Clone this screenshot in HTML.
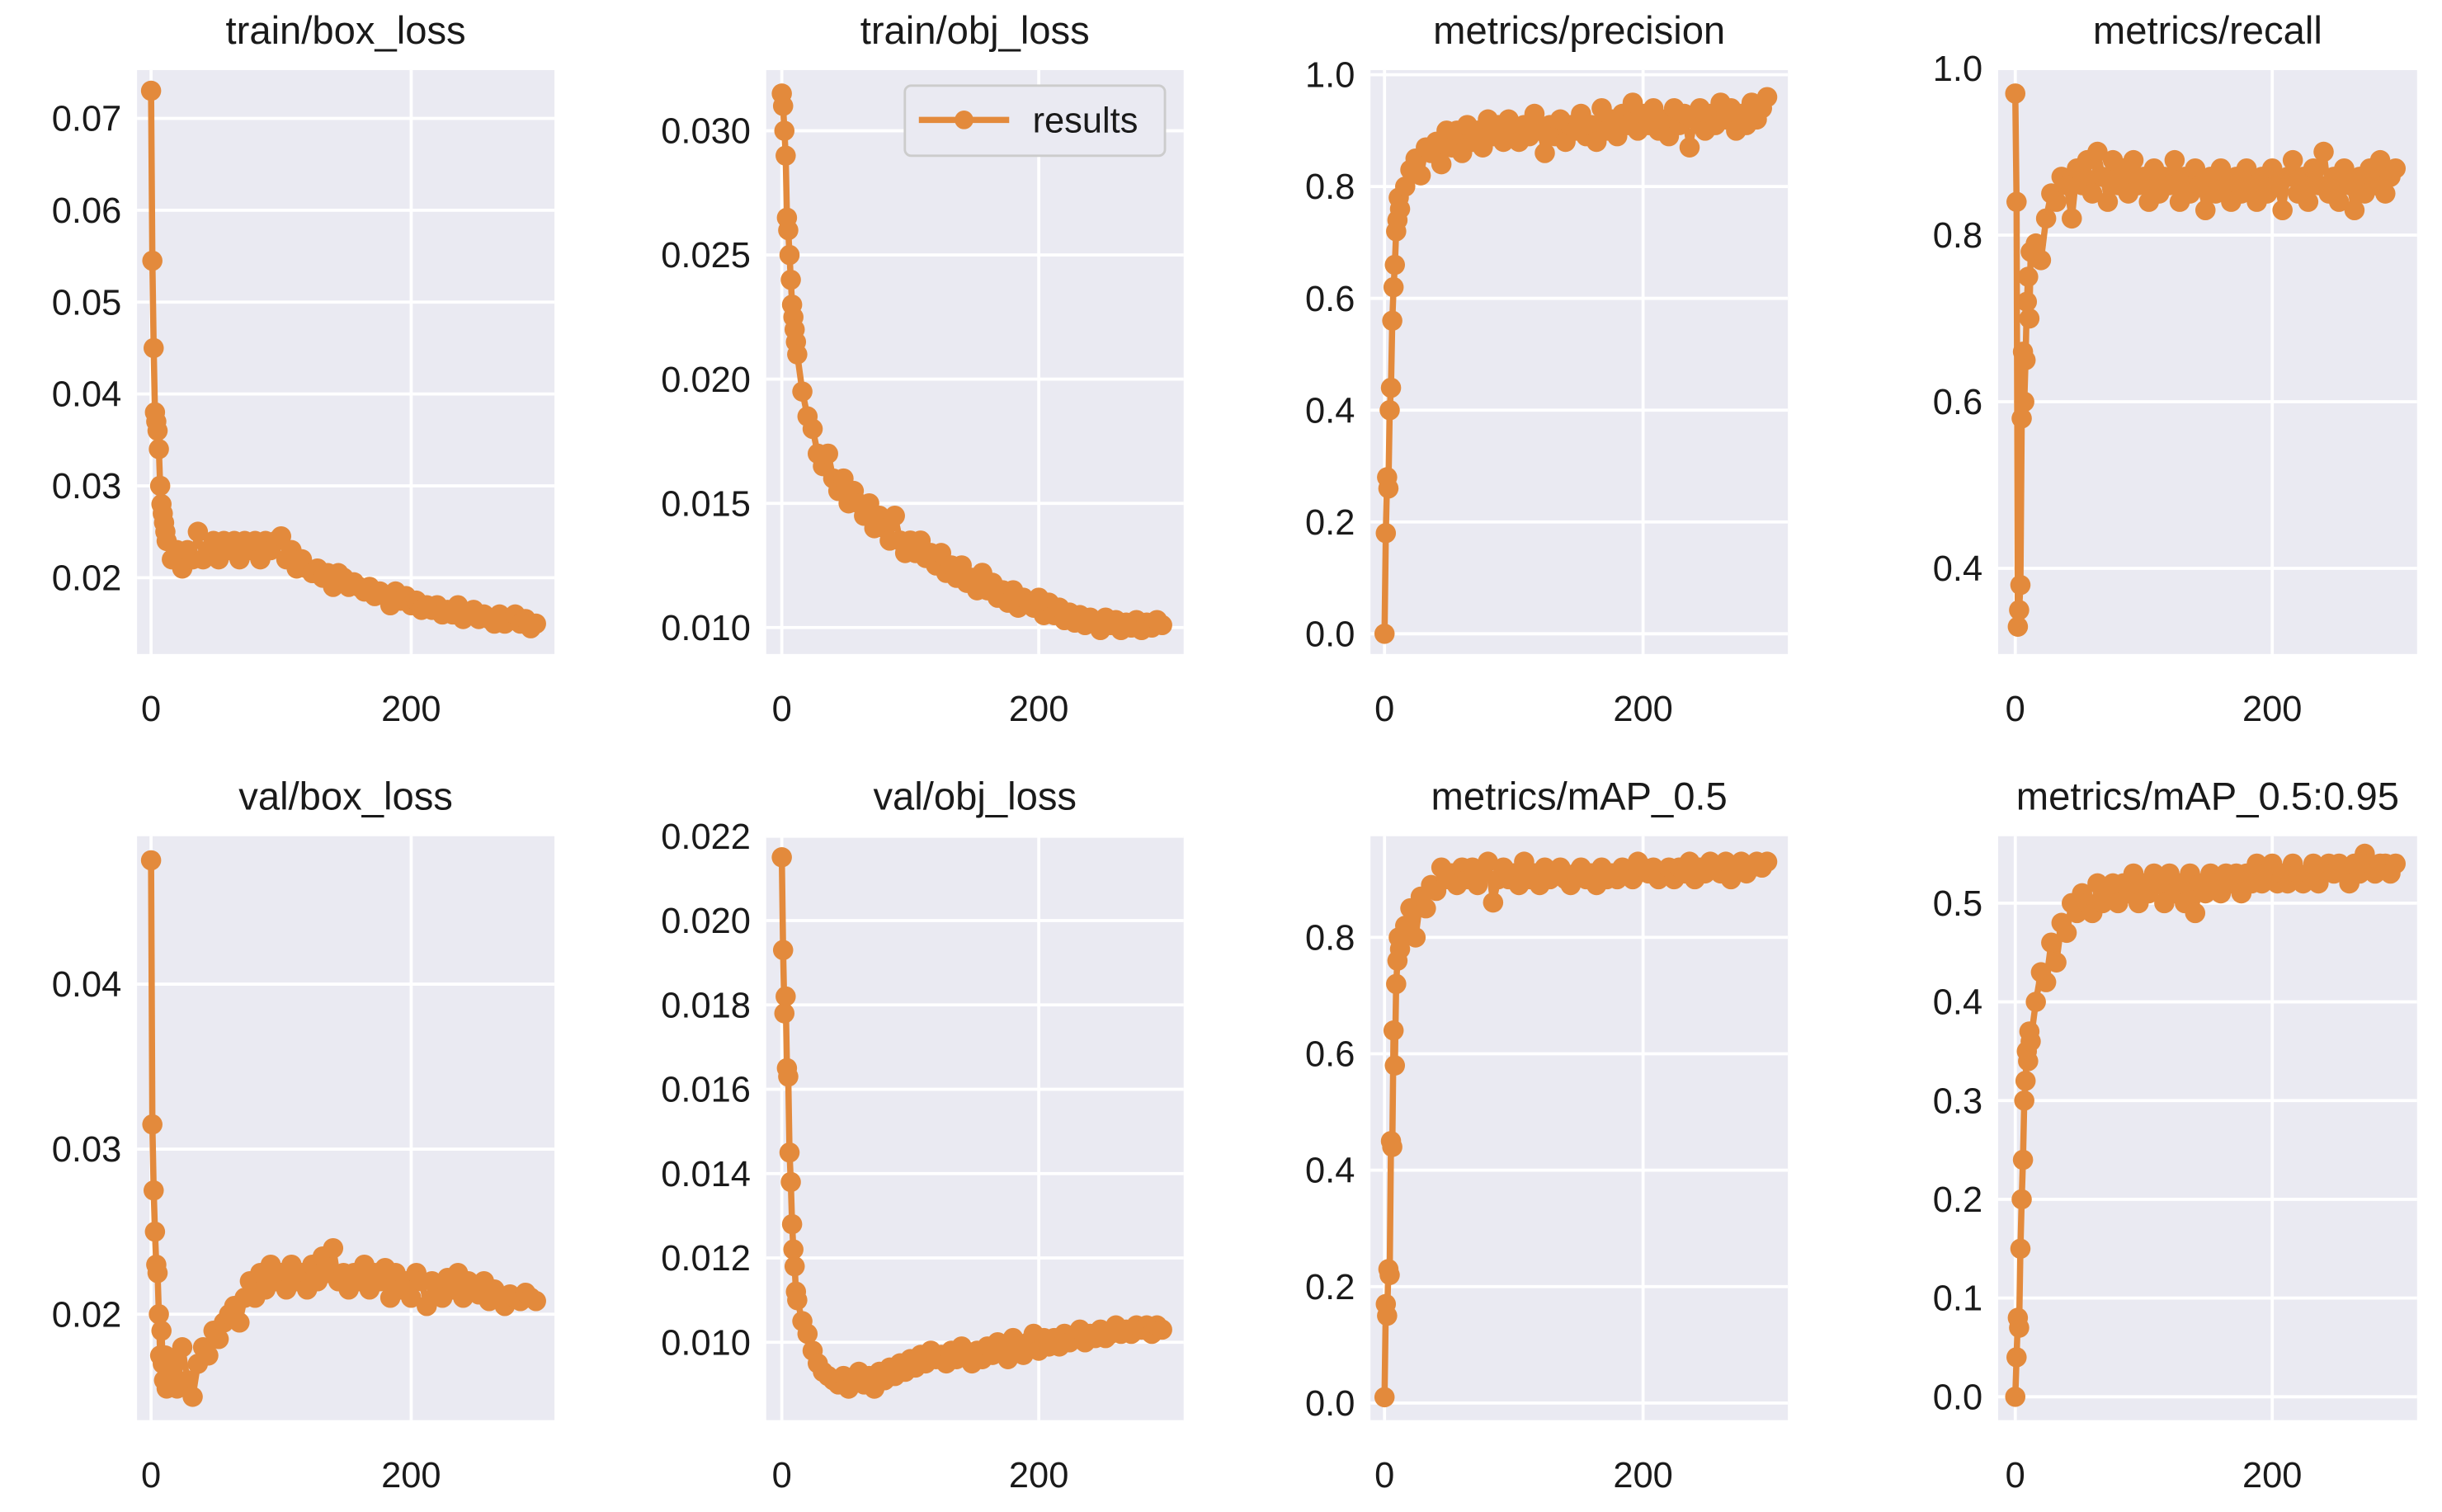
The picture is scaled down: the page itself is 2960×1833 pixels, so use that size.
<!DOCTYPE html>
<html><head><meta charset="utf-8"><style>
html,body{margin:0;padding:0;background:#fff;}
svg{display:block;}
text{font-family:"Liberation Sans",sans-serif;fill:#1a1a1a;}
</style></head><body>
<svg id="fig" width="2960" height="1833" viewBox="0 0 1568 971" preserveAspectRatio="none" xmlns="http://www.w3.org/2000/svg"></svg>
<script>
const epochs=[0,1,2,3,4,5,6,7,8,9,10,11,12,16,20,24,28,32,36,40,44,48,52,56,60,64,68,72,76,80,84,88,92,96,100,104,108,112,116,120,124,128,132,136,140,144,148,152,156,160,164,168,172,176,180,184,188,192,196,200,204,208,212,216,220,224,228,232,236,240,244,248,252,256,260,264,268,272,276,280,284,288,292,296];
const trainBox=[0.073,0.0545,0.045,0.038,0.037,0.036,0.034,0.030,0.028,0.027,0.026,0.025,0.024,0.022,0.023,0.021,0.023,0.022,0.025,0.022,0.023,0.024,0.022,0.024,0.023,0.024,0.022,0.024,0.023,0.024,0.022,0.024,0.023,0.024,0.0245,0.022,0.023,0.021,0.022,0.021,0.0205,0.021,0.020,0.0205,0.019,0.0205,0.020,0.019,0.0195,0.019,0.0185,0.019,0.018,0.0185,0.018,0.017,0.0185,0.0175,0.018,0.017,0.0175,0.0165,0.017,0.0165,0.017,0.016,0.0165,0.016,0.017,0.0155,0.016,0.0165,0.0155,0.016,0.0155,0.015,0.016,0.015,0.0155,0.016,0.015,0.0155,0.0145,0.015];
const trainObj=[0.0315,0.031,0.030,0.029,0.0265,0.026,0.025,0.024,0.023,0.0225,0.022,0.0215,0.021,0.0195,0.0185,0.018,0.017,0.0165,0.017,0.016,0.0155,0.016,0.015,0.0155,0.015,0.0145,0.015,0.014,0.0145,0.014,0.0135,0.0145,0.0135,0.013,0.0135,0.013,0.0135,0.0128,0.013,0.0125,0.013,0.0122,0.0125,0.012,0.0125,0.0118,0.012,0.0115,0.0122,0.0115,0.0118,0.0112,0.0115,0.011,0.0115,0.0108,0.0112,0.011,0.0108,0.0112,0.0105,0.011,0.0105,0.0108,0.0103,0.0106,0.0102,0.0105,0.0101,0.0104,0.0102,0.0099,0.0104,0.0101,0.0103,0.0099,0.0102,0.01,0.0103,0.0099,0.0102,0.01,0.0103,0.0101];
const precision=[0.0,0.18,0.28,0.26,0.4,0.44,0.56,0.62,0.66,0.72,0.74,0.78,0.76,0.8,0.83,0.85,0.82,0.87,0.86,0.88,0.84,0.9,0.87,0.9,0.86,0.91,0.88,0.9,0.87,0.92,0.89,0.91,0.88,0.92,0.9,0.88,0.91,0.89,0.93,0.9,0.86,0.91,0.89,0.92,0.88,0.91,0.9,0.93,0.89,0.91,0.88,0.94,0.9,0.92,0.89,0.93,0.91,0.95,0.9,0.93,0.91,0.94,0.9,0.92,0.89,0.94,0.91,0.93,0.87,0.92,0.94,0.9,0.93,0.91,0.95,0.92,0.94,0.9,0.93,0.91,0.95,0.92,0.94,0.96];
const recall=[0.97,0.84,0.33,0.35,0.38,0.58,0.66,0.6,0.65,0.72,0.75,0.7,0.78,0.79,0.77,0.82,0.85,0.84,0.87,0.86,0.82,0.88,0.86,0.89,0.85,0.9,0.87,0.84,0.89,0.86,0.88,0.85,0.89,0.86,0.87,0.84,0.88,0.85,0.87,0.86,0.89,0.84,0.87,0.85,0.88,0.86,0.83,0.87,0.85,0.88,0.86,0.84,0.87,0.85,0.88,0.86,0.84,0.87,0.85,0.88,0.86,0.83,0.87,0.89,0.85,0.87,0.84,0.88,0.86,0.9,0.85,0.87,0.84,0.88,0.86,0.83,0.87,0.85,0.88,0.86,0.89,0.85,0.87,0.88];
const valBox=[0.0475,0.0315,0.0275,0.025,0.023,0.0225,0.02,0.0175,0.019,0.017,0.016,0.0175,0.0155,0.017,0.0155,0.018,0.016,0.015,0.017,0.018,0.0175,0.019,0.0185,0.0195,0.02,0.0205,0.0195,0.021,0.022,0.021,0.0225,0.0215,0.023,0.022,0.0225,0.0215,0.023,0.022,0.0225,0.0215,0.023,0.022,0.0235,0.0225,0.024,0.022,0.0225,0.0215,0.0225,0.022,0.023,0.0215,0.0225,0.022,0.0228,0.021,0.0225,0.0215,0.022,0.021,0.0225,0.022,0.0205,0.022,0.0215,0.021,0.0222,0.0215,0.0225,0.021,0.022,0.0215,0.0212,0.022,0.0208,0.0215,0.021,0.0205,0.0212,0.021,0.0208,0.0213,0.021,0.0208];
const valObj=[0.0215,0.0193,0.0178,0.0182,0.0165,0.0163,0.0145,0.0138,0.0128,0.0122,0.0118,0.0112,0.011,0.0105,0.0102,0.0098,0.0095,0.0093,0.0092,0.0091,0.009,0.0092,0.0089,0.0091,0.0093,0.009,0.0092,0.0089,0.0093,0.0091,0.0094,0.0092,0.0095,0.0093,0.0096,0.0094,0.0097,0.0095,0.0098,0.0096,0.0097,0.0095,0.0098,0.0096,0.0099,0.0097,0.0095,0.0098,0.0096,0.0099,0.0097,0.01,0.0098,0.0096,0.0101,0.0099,0.0097,0.01,0.0102,0.0098,0.0101,0.0099,0.0101,0.0099,0.0102,0.01,0.0101,0.0103,0.01,0.0102,0.0101,0.0103,0.0101,0.0102,0.0104,0.0102,0.0103,0.0102,0.0104,0.0103,0.0104,0.0102,0.0104,0.0103];
const map50=[0.01,0.17,0.15,0.23,0.22,0.45,0.44,0.64,0.58,0.72,0.76,0.8,0.78,0.82,0.85,0.8,0.87,0.85,0.89,0.88,0.92,0.9,0.91,0.89,0.92,0.9,0.92,0.89,0.91,0.93,0.86,0.9,0.92,0.9,0.91,0.89,0.93,0.9,0.91,0.89,0.92,0.9,0.91,0.92,0.9,0.89,0.91,0.92,0.9,0.91,0.89,0.92,0.9,0.91,0.9,0.92,0.91,0.9,0.93,0.92,0.91,0.92,0.9,0.91,0.92,0.9,0.92,0.91,0.93,0.9,0.92,0.91,0.93,0.92,0.91,0.93,0.9,0.92,0.93,0.91,0.92,0.93,0.92,0.93];
const map5095=[0.0,0.04,0.08,0.07,0.15,0.2,0.24,0.3,0.32,0.35,0.34,0.37,0.36,0.4,0.43,0.42,0.46,0.44,0.48,0.47,0.5,0.49,0.51,0.5,0.49,0.52,0.5,0.51,0.52,0.5,0.52,0.51,0.53,0.5,0.52,0.51,0.53,0.52,0.5,0.53,0.51,0.52,0.5,0.53,0.49,0.52,0.51,0.53,0.52,0.51,0.53,0.52,0.53,0.51,0.53,0.52,0.54,0.52,0.53,0.54,0.52,0.53,0.52,0.54,0.53,0.52,0.53,0.54,0.52,0.53,0.54,0.53,0.54,0.53,0.52,0.54,0.53,0.55,0.54,0.53,0.54,0.54,0.53,0.54];
const xTickValues=[0,200];
const xTickLabels=["0","200"];
const ticksTrainBox=[0.02,0.03,0.04,0.05,0.06,0.07];
const labelsTrainBox=["0.02","0.03","0.04","0.05","0.06","0.07"];
const ticksTrainObj=[0.010,0.015,0.020,0.025,0.030];
const labelsTrainObj=["0.010","0.015","0.020","0.025","0.030"];
const ticksPrec=[0,0.2,0.4,0.6,0.8,1.0];
const labelsPrec=["0.0","0.2","0.4","0.6","0.8","1.0"];
const ticksRecall=[0.4,0.6,0.8,1.0];
const labelsRecall=["0.4","0.6","0.8","1.0"];
const ticksValBox=[0.02,0.03,0.04];
const labelsValBox=["0.02","0.03","0.04"];
const ticksValObj=[0.010,0.012,0.014,0.016,0.018,0.020,0.022];
const labelsValObj=["0.010","0.012","0.014","0.016","0.018","0.020","0.022"];
const ticksMap50=[0,0.2,0.4,0.6,0.8];
const labelsMap50=["0.0","0.2","0.4","0.6","0.8"];
const ticksMap95=[0,0.1,0.2,0.3,0.4,0.5];
const labelsMap95=["0.0","0.1","0.2","0.3","0.4","0.5"];

const NS="http://www.w3.org/2000/svg";
const svg=document.getElementById('fig');
const COLOR="#e38a3c";
function mk(tag,attrs,parent){const e=document.createElementNS(NS,tag);for(const k in attrs)e.setAttribute(k,attrs[k]);(parent||svg).appendChild(e);return e;}

const panels=[
 {name:"train-box-loss",title:"train/box_loss",data:trainBox,ticks:ticksTrainBox,labels:labelsTrainBox,L:88,R:356,T:45,B:420,x0:97,x200:264,ya:[0.07,76],yb:[0.02,371]},
 {name:"train-obj-loss",title:"train/obj_loss",data:trainObj,ticks:ticksTrainObj,labels:labelsTrainObj,L:492,R:760,T:45,B:420,x0:502,x200:667,ya:[0.030,84],yb:[0.010,403],legend:true},
 {name:"precision",title:"metrics/precision",data:precision,ticks:ticksPrec,labels:labelsPrec,L:880,R:1148,T:45,B:420,x0:889,x200:1055,ya:[1.0,48],yb:[0.0,407]},
 {name:"recall",title:"metrics/recall",data:recall,ticks:ticksRecall,labels:labelsRecall,L:1283,R:1552,T:45,B:420,x0:1294,x200:1459,ya:[1.0,44],yb:[0.4,365]},
 {name:"val-box-loss",title:"val/box_loss",data:valBox,ticks:ticksValBox,labels:labelsValBox,L:88,R:356,T:537,B:912,x0:97,x200:264,ya:[0.04,632],yb:[0.02,844]},
 {name:"val-obj-loss",title:"val/obj_loss",data:valObj,ticks:ticksValObj,labels:labelsValObj,L:492,R:760,T:537,B:912,x0:502,x200:667,ya:[0.022,537],yb:[0.010,862]},
 {name:"map-0-5",title:"metrics/mAP_0.5",data:map50,ticks:ticksMap50,labels:labelsMap50,L:880,R:1148,T:537,B:912,x0:889,x200:1055,ya:[0.8,602],yb:[0.0,901]},
 {name:"map-0-5-0-95",title:"metrics/mAP_0.5:0.95",data:map5095,ticks:ticksMap95,labels:labelsMap95,L:1283,R:1552,T:537,B:912,x0:1294,x200:1459,ya:[0.5,580],yb:[0.0,897]}
];

panels.forEach(p=>{
  const g=mk('g',{});
  
  
  const xs=v=>p.x0+(v/200)*(p.x200-p.x0);
  const ys=v=>p.ya[1]+(v-p.ya[0])*(p.yb[1]-p.ya[1])/(p.yb[0]-p.ya[0]);
  const bg=mk('rect',{x:p.L,y:p.T,width:p.R-p.L,height:p.B-p.T,fill:"#eaeaf2"},g);
  
  
  const t=mk('text',{x:(p.L+p.R)/2,y:p.T-17,'font-size':25,'text-anchor':'middle'},g);
  t.textContent=p.title;
  
  
  xTickValues.forEach((v,i)=>{
    const gl=mk('line',{x1:xs(v),x2:xs(v),y1:p.T,y2:p.B,stroke:"#fff","stroke-width":2},g);
    
    
    const tl=mk('text',{x:xs(v),y:p.B+43,'font-size':23,'text-anchor':'middle'},g);
    tl.textContent=xTickLabels[i];
    
    
  });
  p.ticks.forEach((v,i)=>{
    const y=ys(v);
    const gl=mk('line',{x1:p.L,x2:p.R,y1:y,y2:y,stroke:"#fff","stroke-width":2},g);
    
    
    const tl=mk('text',{x:p.L-10,y:y+8,'font-size':23,'text-anchor':'end'},g);
    tl.textContent=p.labels[i];
    
    
  });
  const pts=p.data.map((v,i)=>xs(epochs[i]).toFixed(2)+','+ys(v).toFixed(2)).join(' ');
  const line=mk('polyline',{points:pts,fill:'none',stroke:COLOR,'stroke-width':4,'stroke-linejoin':'round'},g);
  
  
  p.data.forEach((v,i)=>{
    const c=mk('circle',{cx:xs(epochs[i]),cy:ys(v),r:6.5,fill:COLOR},g);
    
    
  });
  if(p.legend){
    const lg=mk('g',{},g);
    
    
    mk('rect',{x:581,y:55,width:167,height:45,rx:4,fill:"#eaeaf2",stroke:"#cccccc","stroke-width":1.5},lg);
    const ll=mk('line',{x1:590,x2:648,y1:77,y2:77,stroke:COLOR,'stroke-width':4},lg);
    
    
    mk('circle',{cx:619,cy:77,r:6,fill:COLOR},lg);
    const lt=mk('text',{x:663,y:85,'font-size':23},lg);
    lt.textContent="results";
    
    
  }
});
</script>
</body></html>
